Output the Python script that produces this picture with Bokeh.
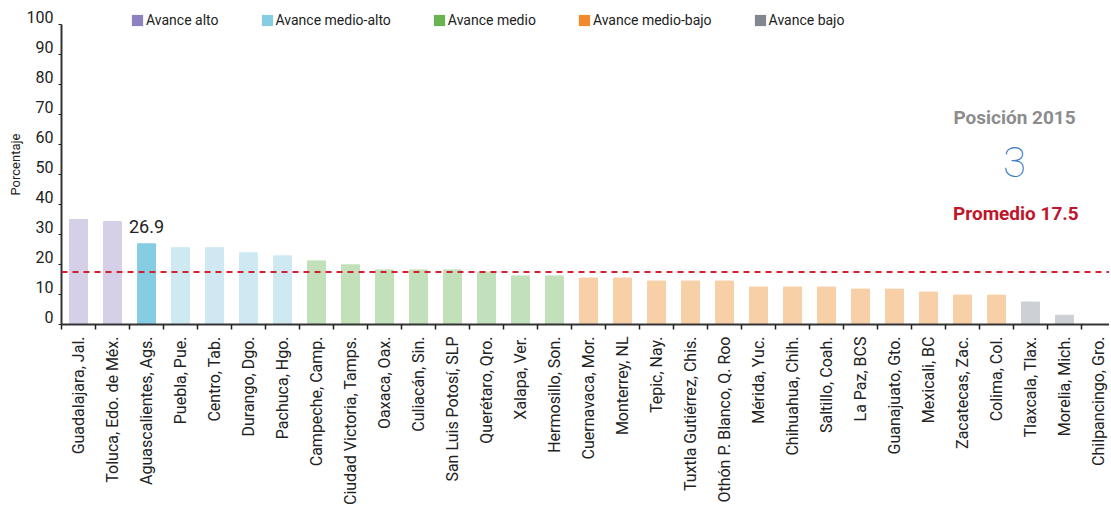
from math import pi
from bokeh.plotting import figure
from bokeh.models import (Range1d, FixedTicker, Span, Label, Legend, LegendItem,
                          ColumnDataSource)
from bokeh.core.properties import value
from bokeh.embed import file_html
from bokeh.resources import INLINE

cities = ["Guadalajara, Jal.", "Toluca, Edo. de Méx.", "Aguascalientes, Ags.", "Puebla, Pue.",
          "Centro, Tab.", "Durango, Dgo.", "Pachuca, Hgo.", "Campeche, Camp.",
          "Ciudad Victoria, Tamps.", "Oaxaca, Oax.", "Culiacán, Sin.", "San Luis Potosí, SLP",
          "Querétaro, Qro.", "Xalapa, Ver.", "Hermosillo, Son.", "Cuernavaca, Mor.",
          "Monterrey, NL", "Tepic, Nay.", "Tuxtla Gutiérrez, Chis.", "Othón P. Blanco, Q. Roo",
          "Mérida, Yuc.", "Chihuahua, Chih.", "Saltillo, Coah.", "La Paz, BCS",
          "Guanajuato, Gto.", "Mexicali, BC", "Zacatecas, Zac.", "Colima, Col.",
          "Tlaxcala, Tlax.", "Morelia, Mich.", "Chilpancingo, Gro."]
values = [35.0, 34.3, 26.9, 25.6, 25.6, 23.9, 22.9, 21.2, 19.9, 18.2, 18.2, 18.2, 17.5, 16.2,
          16.2, 15.5, 15.5, 14.5, 14.5, 14.5, 12.5, 12.5, 12.5, 11.8, 11.8, 10.8, 9.8, 9.8,
          7.5, 3.1, 0.0]
levels = (["Avance alto"] * 2 + ["Avance medio-alto"] * 5 + ["Avance medio"] * 8
          + ["Avance medio-bajo"] * 13 + ["Avance bajo"] * 3)
legend_names = ["Avance alto", "Avance medio-alto", "Avance medio", "Avance medio-bajo", "Avance bajo"]
legend_colors = ["#8E82BE", "#86CDE3", "#6AB351", "#F08A2C", "#81878F"]
bar_colors = ["#D5D0E8", "#CFE9F2", "#C2E1BA", "#F8D0A8", "#CDD1D5"]
highlight_city = "Aguascalientes, Ags."
highlight_color = "#86CDE3"
promedio = 17.5
y_ticks = [0, 10, 20, 30, 40, 50, 60, 70, 80, 90, 100]
y_max = 100

FONT = "Roboto"
CAT_PX = 34
PX_PER_UNIT = 3
HEAD_PX = 20          # room above the 100 line for the legend
FRAME_W = 1048
FRAME_H = y_max * PX_PER_UNIT + HEAD_PX
LEFT, TOP = 61, 4

xs = [i + 0.5 for i in range(len(cities))]
colors = []
for c, lv in zip(cities, levels):
    colors.append(highlight_color if c == highlight_city else bar_colors[legend_names.index(lv)])

src = ColumnDataSource(dict(x=xs, top=values, color=colors, city=cities))

p = figure(frame_width=FRAME_W, frame_height=FRAME_H, output_backend="svg", toolbar_location=None,
           x_range=Range1d(0, FRAME_W / CAT_PX),
           y_range=Range1d(0, y_max + HEAD_PX / PX_PER_UNIT),
           min_border_left=LEFT, min_border_right=0, min_border_top=TOP, min_border_bottom=0)
p.outline_line_color = None
p.xgrid.visible = False
p.ygrid.visible = False
p.background_fill_color = "white"

p.vbar(x="x", top="top", width=0.53, color="color", source=src)

p.add_layout(Span(location=promedio, dimension="width", line_color="#D42030",
                  line_dash="6 5", line_width=1.8))

# value label for highlighted city
hi = cities.index(highlight_city)
p.text(x=[xs[hi]], y=[values[hi]], text=[f"{values[hi]:.1f}"], text_align="center",
       text_baseline="bottom", y_offset=-11, text_font=value(FONT), text_font_size="18px",
       text_color="#222222")

# legend: zero-width bars per level carry the strong legend colours
items = []
for name, col in zip(legend_names, legend_colors):
    lx = [x for x, lv in zip(xs, levels) if lv == name]
    lt = [v for v, lv in zip(values, levels) if lv == name]
    r = p.vbar(x=lx, top=lt, width=0, fill_color=col, line_color=None)
    items.append(LegendItem(label=name, renderers=[r]))
leg = Legend(items=items, orientation="horizontal",
             location=(69, FRAME_H - 10 - 14), padding=0, margin=0,
             spacing=41, glyph_width=14, glyph_height=14, label_standoff=2,
             label_text_font=FONT, label_text_font_size="14px", label_text_color="#222222",
             border_line_color=None, background_fill_alpha=0, label_height=14)
p.add_layout(leg, "center")

# x axis
xa = p.xaxis[0]
xa.ticker = FixedTicker(ticks=xs, minor_ticks=list(range(len(cities) + 1)))
xa.major_label_overrides = {x: c for x, c in zip(xs, cities)}
xa.major_label_orientation = pi / 2
xa.major_tick_out = 0
xa.major_tick_in = 0
xa.minor_tick_out = 5
xa.minor_tick_in = 0
xa.minor_tick_line_color = "#222222"
xa.minor_tick_line_width = 1.5
xa.axis_line_color = "#333333"
xa.axis_line_width = 2
xa.major_label_standoff = 7
xa.major_label_text_font = FONT
xa.major_label_text_font_size = "16px"
xa.major_label_text_color = "#222222"

# y axis (labels sit just above their ticks, as in the original)
ya = p.yaxis[0]
ya.ticker = FixedTicker(ticks=y_ticks)
ya.bounds = (0, y_max)
ya.major_label_overrides = {t: f"{t}\n" for t in y_ticks}
ya.major_label_text_line_height = 0.7
ya.minor_tick_line_color = None
ya.major_tick_out = 3
ya.major_tick_in = 0
ya.major_tick_line_color = "#222222"
ya.axis_line_color = "#333333"
ya.axis_line_width = 2
ya.major_label_text_font = FONT
ya.major_label_text_font_size = "16px"
ya.major_label_text_color = "#222222"
ya.major_label_standoff = 5
ya.axis_label = "Porcentaje"
ya.axis_label_text_font = FONT
ya.axis_label_text_font_size = "13px"
ya.axis_label_text_font_style = "normal"
ya.axis_label_text_color = "#222222"
ya.axis_label_standoff = 1

# right-hand annotations
p.add_layout(Label(x=28.03, y=69, text="Posición 2015", text_align="center",
                   text_baseline="middle", text_font=FONT, text_font_size="19px",
                   text_font_style="bold", text_color="#8C8C8C"))
p.add_layout(Label(x=28.03, y=54.3, text="3", text_align="center", text_baseline="middle",
                   text_font="Roboto Thin, Lato Hairline, Lato Light, Roboto",
                   text_font_size="42px", text_color="#3D7CC9"))
p.add_layout(Label(x=28.07, y=37, text="Promedio 17.5", text_align="center",
                   text_baseline="middle", text_font=FONT, text_font_size="19px",
                   text_font_style="bold", text_color="#C0162B"))

open("out.html", "w").write(file_html(p, INLINE))
